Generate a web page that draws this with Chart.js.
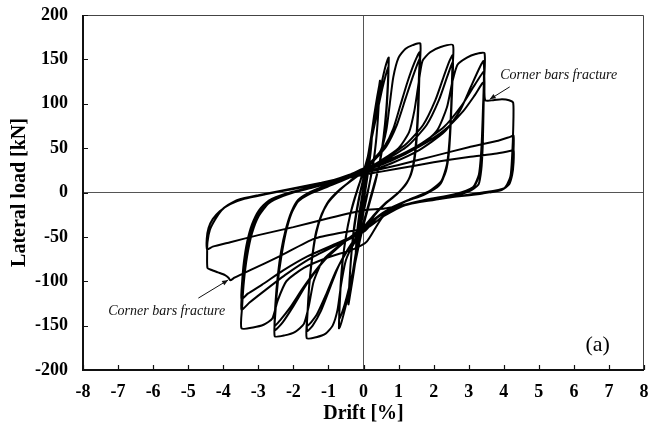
<!DOCTYPE html>
<html>
<head>
<meta charset="utf-8">
<script src="https://cdn.jsdelivr.net/npm/chart.js@4.4.0/dist/chart.umd.min.js"></script>
<style>
  html, body { margin: 0; padding: 0; background: #fff; }
  #wrap { width: 650px; height: 434px; }
</style>
</head>
<body>
<div id="wrap"><canvas id="chart" width="650" height="434"></canvas></div>
<script>
// Axis ticks
const driftTicks = [-8, -7, -6, -5, -4, -3, -2, -1, 0, 1, 2, 3, 4, 5, 6, 7, 8];
const loadTicks = [-200, -150, -100, -50, 0, 50, 100, 150, 200];

// Recorded load path, one array per cycle: [drift %, lateral load kN]
const cyc025a = [[0,0],[0.08,24],[0.16,47],[0.23,66],[0.25,70],[0.21,50],[0.14,28],[0.06,6],[-0.04,-18],[-0.12,-42],[-0.19,-60],[-0.22,-67],[-0.18,-47],[-0.11,-24],[-0.03,-2]];
const cyc025b = [[0.06,18],[0.14,40],[0.21,58],[0.24,64],[0.2,44],[0.12,20],[0.03,-4],[-0.07,-28],[-0.15,-50],[-0.21,-62],[-0.17,-40],[-0.09,-16],[0,6]];

const cyc050a = [[0.1,32],[0.2,58],[0.3,86],[0.39,108],[0.45,121],[0.47,126],[0.44,102],[0.39,72],[0.31,42],[0.21,18],[0.09,-6],[-0.04,-30],[-0.16,-58],[-0.27,-88],[-0.36,-110],[-0.41,-122],[-0.43,-126],[-0.4,-100],[-0.34,-66],[-0.26,-36],[-0.15,-10],[-0.04,10]];
const cyc050b = [[0.08,30],[0.19,56],[0.3,84],[0.39,104],[0.45,115],[0.42,90],[0.36,58],[0.27,30],[0.16,8],[0.03,-14],[-0.1,-38],[-0.22,-68],[-0.33,-96],[-0.4,-112],[-0.42,-116],[-0.38,-88],[-0.31,-55],[-0.21,-26],[-0.09,0],[0.02,18]];

const cyc075a = [[0.14,44],[0.27,74],[0.4,102],[0.52,124],[0.62,141],[0.69,150],[0.72,152],[0.7,128],[0.65,94],[0.57,62],[0.47,36],[0.34,12],[0.2,-8],[0.06,-28],[-0.09,-52],[-0.24,-80],[-0.39,-108],[-0.52,-130],[-0.62,-145],[-0.68,-152],[-0.7,-153],[-0.68,-128],[-0.63,-94],[-0.55,-62],[-0.44,-36],[-0.31,-14],[-0.17,4],[-0.03,20]];
const cyc075b = [[0.12,40],[0.26,66],[0.4,92],[0.53,116],[0.64,133],[0.71,141],[0.69,114],[0.63,80],[0.54,50],[0.42,26],[0.28,6],[0.14,-14],[0,-34],[-0.16,-62],[-0.32,-92],[-0.48,-118],[-0.6,-134],[-0.69,-142],[-0.67,-116],[-0.61,-82],[-0.51,-52],[-0.39,-27],[-0.25,-7],[-0.1,12],[0,24]];

const cyc160a = [[0.25,34],[0.5,48],[0.65,70],[0.75,100],[0.85,130],[1.0,152],[1.2,162],[1.4,166],[1.62,168],[1.6,140],[1.57,100],[1.52,62],[1.45,36],[1.32,17],[1.05,2],[0.7,-10],[0.35,-24],[0.05,-40],[-0.25,-56],[-0.5,-76],[-0.64,-104],[-0.74,-132],[-0.88,-150],[-1.08,-159],[-1.35,-163],[-1.62,-164],[-1.6,-138],[-1.55,-106],[-1.47,-76],[-1.37,-50],[-1.22,-28],[-1.02,-12],[-0.7,2],[-0.35,14],[0,26]];
const cyc160b = [[0.3,38],[0.6,52],[0.85,72],[1.05,98],[1.25,124],[1.45,146],[1.6,158],[1.58,130],[1.55,92],[1.5,58],[1.42,32],[1.28,14],[1.0,0],[0.62,-12],[0.28,-26],[0,-40],[-0.35,-58],[-0.7,-82],[-0.98,-110],[-1.22,-134],[-1.45,-150],[-1.61,-156],[-1.59,-132],[-1.54,-100],[-1.46,-72],[-1.36,-47],[-1.2,-26],[-1.0,-10],[-0.68,3],[-0.32,14],[0,24]];
const cyc160c = [[0.3,36],[0.65,52],[0.95,76],[1.2,106],[1.42,132],[1.6,150],[1.58,122],[1.55,86],[1.49,52],[1.4,28],[1.24,11],[0.95,-2],[0.58,-14],[0.24,-28],[-0.05,-42],[-0.4,-62],[-0.78,-88],[-1.08,-116],[-1.34,-138],[-1.6,-150],[-1.58,-126],[-1.53,-96],[-1.45,-68],[-1.35,-44],[-1.19,-24],[-0.98,-9],[-0.66,4],[-0.3,15],[0,24]];

const cyc255a = [[0.5,36],[1.0,50],[1.3,68],[1.45,92],[1.56,120],[1.68,148],[1.9,158],[2.2,164],[2.55,166],[2.53,136],[2.5,96],[2.45,58],[2.38,32],[2.22,13],[1.85,1],[1.3,-8],[0.75,-18],[0.25,-32],[-0.2,-46],[-0.7,-60],[-1.15,-76],[-1.42,-100],[-1.56,-128],[-1.7,-148],[-1.95,-157],[-2.25,-161],[-2.53,-162],[-2.51,-134],[-2.44,-100],[-2.35,-74],[-2.22,-46],[-2.06,-24],[-1.86,-10],[-1.5,-1],[-1.0,7],[-0.5,15],[0,24]];
const cyc255b = [[0.6,38],[1.2,54],[1.7,76],[2.05,104],[2.3,132],[2.45,148],[2.55,155],[2.53,126],[2.5,88],[2.45,52],[2.37,28],[2.2,10],[1.8,-1],[1.2,-10],[0.6,-22],[0.1,-36],[-0.5,-54],[-1.1,-76],[-1.6,-102],[-2.0,-128],[-2.3,-146],[-2.53,-155],[-2.51,-128],[-2.44,-96],[-2.35,-70],[-2.22,-44],[-2.06,-23],[-1.86,-9],[-1.5,0],[-1.0,8],[-0.5,16],[0,24]];
const cyc255c = [[0.6,36],[1.25,52],[1.8,76],[2.15,104],[2.4,132],[2.55,147],[2.53,118],[2.49,80],[2.44,46],[2.35,24],[2.16,8],[1.75,-2],[1.15,-11],[0.55,-23],[0.05,-38],[-0.55,-56],[-1.2,-80],[-1.7,-106],[-2.1,-130],[-2.38,-144],[-2.53,-150],[-2.51,-124],[-2.44,-92],[-2.35,-66],[-2.22,-42],[-2.06,-22],[-1.86,-8],[-1.5,1],[-1.0,9],[-0.5,17],[0,26]];

const cyc345a = [[0.8,38],[1.6,52],[2.1,70],[2.38,96],[2.53,124],[2.68,144],[2.95,152],[3.2,156],[3.45,157],[3.44,126],[3.42,86],[3.4,52],[3.36,26],[3.28,9],[3.0,1],[2.2,-7],[1.2,-14],[0.56,-27],[0.1,-55],[-0.3,-64],[-1.0,-73],[-1.7,-85],[-2.2,-100],[-2.45,-122],[-2.6,-142],[-2.85,-149],[-3.15,-152],[-3.48,-153],[-3.46,-128],[-3.41,-100],[-3.32,-72],[-3.18,-46],[-2.98,-26],[-2.7,-12],[-2.3,-4],[-1.7,4],[-1.0,12],[-0.4,20],[0,27]];
const cyc345b = [[0.8,38],[1.6,54],[2.3,74],[2.8,98],[3.12,118],[3.33,131],[3.43,136],[3.42,108],[3.39,72],[3.35,42],[3.29,20],[3.12,6],[2.6,-2],[1.8,-8],[1.0,-16],[0.4,-28],[0.02,-44],[-0.7,-58],[-1.5,-74],[-2.2,-92],[-2.8,-110],[-3.25,-124],[-3.48,-132],[-3.46,-110],[-3.41,-86],[-3.32,-62],[-3.18,-40],[-2.98,-22],[-2.7,-10],[-2.2,-2],[-1.5,5],[-0.8,13],[0,24]];
const cyc345c = [[0.8,36],[1.6,52],[2.3,70],[2.85,92],[3.18,110],[3.42,124],[3.41,98],[3.38,64],[3.34,36],[3.27,16],[3.1,4],[2.55,-3],[1.75,-9],[0.95,-17],[0.35,-29],[-0.05,-44],[-0.8,-58],[-1.6,-72],[-2.3,-88],[-2.9,-104],[-3.3,-114],[-3.48,-120],[-3.46,-100],[-3.41,-78],[-3.32,-56],[-3.18,-36],[-2.98,-20],[-2.7,-9],[-2.2,-1],[-1.5,6],[-0.8,14],[0,22]];

const cyc430a = [[0.8,33],[1.6,48],[2.3,68],[2.75,92],[3.05,118],[3.28,138],[3.42,148],[3.45,125],[3.47,104],[3.7,104],[3.95,105],[4.15,104],[4.27,101],[4.27,72],[4.24,42],[4.19,18],[4.02,5],[3.4,0],[2.2,-7],[1.2,-14],[0.56,-27],[0.1,-40],[-0.6,-45],[-1.4,-52],[-2.4,-72],[-3.2,-87],[-3.53,-93],[-3.68,-96],[-3.8,-99],[-3.85,-96],[-3.95,-93],[-4.15,-90],[-4.35,-87],[-4.45,-85],[-4.46,-70],[-4.45,-56],[-4.38,-42],[-4.24,-31],[-4.05,-20],[-3.86,-14],[-3.57,-8],[-3.0,-3],[-2.2,3],[-1.2,11],[0,22]];
const cyc430b = [[1.0,31],[2.0,41],[3.0,51],[3.8,58],[4.2,63],[4.28,64],[4.28,48],[4.25,30],[4.18,14],[4.0,4],[3.4,-1],[2.4,-6],[1.4,-12],[0.6,-18],[0,-20],[-1.0,-29],[-2.0,-39],[-3.0,-48],[-3.8,-56],[-4.3,-61],[-4.46,-64],[-4.47,-52],[-4.42,-40],[-4.3,-30],[-4.1,-21],[-3.8,-13],[-3.4,-7],[-2.8,-2],[-2.0,4],[-1.0,12],[0,20]];
const cyc430c = [[1.0,27],[2.0,34],[3.0,40],[3.8,44],[4.2,47],[4.28,48],[4.28,34],[4.24,20],[4.15,9],[3.95,3],[3.6,0]];

const loadPath = [].concat(
  cyc025a, cyc025b, cyc050a, cyc050b, cyc075a, cyc075b,
  cyc160a, cyc160b, cyc160c, cyc255a, cyc255b, cyc255c,
  cyc345a, cyc345b, cyc345c, cyc430a, cyc430b, cyc430c
).map(([x, y]) => ({ x, y }));

// Callouts (anchored in data units)
const calloutText = 'Corner bars fracture';
const callouts = [
  { textAt: [3.9, 132], align: 'left', from: [4.17, 119], to: [3.6, 105] },
  { textAt: [-7.28, -134], align: 'left', from: [-4.71, -119], to: [-3.86, -98.6] }
];
const panelLabel = { text: '(a)', at: [6.68, -172] };

const SERIF = "'Liberation Serif', 'Times New Roman', serif";

const framePlugin = {
  id: 'frameAndNotes',
  afterDatasetsDraw(chart) {
    const { ctx, chartArea: a, scales: { x, y } } = chart;
    ctx.save();
    // top and right frame
    ctx.strokeStyle = '#444';
    ctx.lineWidth = 1;
    ctx.beginPath();
    ctx.moveTo(a.left, a.top + 0.5); ctx.lineTo(a.right - 0.5, a.top + 0.5);
    ctx.lineTo(a.right - 0.5, a.bottom);
    ctx.stroke();
    // left and bottom axes
    ctx.strokeStyle = '#111';
    ctx.lineWidth = 2;
    ctx.beginPath();
    ctx.moveTo(a.left, a.top); ctx.lineTo(a.left, a.bottom); ctx.lineTo(a.right, a.bottom);
    ctx.stroke();
    // inward tick marks
    ctx.lineWidth = 1.2;
    ctx.beginPath();
    y.ticks.forEach(t => {
      const py = Math.round(y.getPixelForValue(t.value)) + 0.5;
      ctx.moveTo(a.left, py); ctx.lineTo(a.left + 5, py);
    });
    x.ticks.forEach(t => {
      const px = Math.round(x.getPixelForValue(t.value)) + 0.5;
      ctx.moveTo(px, a.bottom); ctx.lineTo(px, a.bottom - 5);
    });
    ctx.stroke();

    // callouts
    ctx.fillStyle = '#111';
    ctx.strokeStyle = '#111';
    ctx.font = 'italic 14px ' + SERIF;
    ctx.textBaseline = 'middle';
    callouts.forEach(c => {
      ctx.textAlign = c.align;
      ctx.fillText(calloutText, x.getPixelForValue(c.textAt[0]), y.getPixelForValue(c.textAt[1]));
      const x1 = x.getPixelForValue(c.from[0]), y1 = y.getPixelForValue(c.from[1]);
      const x2 = x.getPixelForValue(c.to[0]), y2 = y.getPixelForValue(c.to[1]);
      ctx.lineWidth = 1;
      ctx.beginPath(); ctx.moveTo(x1, y1); ctx.lineTo(x2, y2); ctx.stroke();
      const ang = Math.atan2(y2 - y1, x2 - x1), L = 6, W = 2.6;
      ctx.beginPath();
      ctx.moveTo(x2, y2);
      ctx.lineTo(x2 - L * Math.cos(ang) + W * Math.sin(ang), y2 - L * Math.sin(ang) - W * Math.cos(ang));
      ctx.lineTo(x2 - L * Math.cos(ang) - W * Math.sin(ang), y2 - L * Math.sin(ang) + W * Math.cos(ang));
      ctx.closePath(); ctx.fill();
    });

    // panel label
    ctx.font = '22px ' + SERIF;
    ctx.textAlign = 'center';
    ctx.fillStyle = '#000';
    ctx.fillText(panelLabel.text, x.getPixelForValue(panelLabel.at[0]), y.getPixelForValue(panelLabel.at[1]));
    ctx.restore();
  }
};

const zeroLine = c => (c.tick && c.tick.value === 0) ? '#555' : 'rgba(0,0,0,0)';

new Chart(document.getElementById('chart'), {
  type: 'scatter',
  data: {
    datasets: [{
      data: loadPath,
      showLine: true,
      borderColor: '#000',
      borderWidth: 2,
      pointRadius: 0,
      tension: 0.2,
      fill: false
    }]
  },
  options: {
    responsive: false,
    animation: false,
    devicePixelRatio: 1,
    layout: { padding: { top: 15, right: 6, left: 0, bottom: 0 } },
    plugins: { legend: { display: false }, tooltip: { enabled: false } },
    scales: {
      x: {
        type: 'linear',
        min: driftTicks[0],
        max: driftTicks[driftTicks.length - 1],
        afterBuildTicks: s => { s.ticks = driftTicks.map(v => ({ value: v })); },
        afterFit: s => { s.height = 64; s.paddingLeft = 0; s.paddingRight = 0; },
        ticks: { color: '#000', font: { family: SERIF, size: 18, weight: 'bold' }, padding: 12, maxRotation: 0, autoSkip: false },
        grid: { color: zeroLine, lineWidth: 1, drawTicks: false },
        border: { display: false },
        title: { display: true, text: 'Drift [%]', color: '#000', font: { family: SERIF, size: 20, weight: 'bold' }, padding: { top: 0, bottom: 8 } }
      },
      y: {
        type: 'linear',
        min: loadTicks[0],
        max: loadTicks[loadTicks.length - 1],
        afterBuildTicks: s => { s.ticks = loadTicks.map(v => ({ value: v })); },
        afterFit: s => { s.width = 83; s.paddingTop = 0; s.paddingBottom = 0; },
        ticks: { color: '#000', font: { family: SERIF, size: 18, weight: 'bold' }, padding: 15, autoSkip: false },
        grid: { color: zeroLine, lineWidth: 1, drawTicks: false },
        border: { display: false },
        title: { display: true, text: 'Lateral load [kN]', color: '#000', font: { family: SERIF, size: 20, weight: 'bold' }, padding: { top: 8, bottom: 0 } }
      }
    }
  },
  plugins: [framePlugin]
});
</script>
</body>
</html>
